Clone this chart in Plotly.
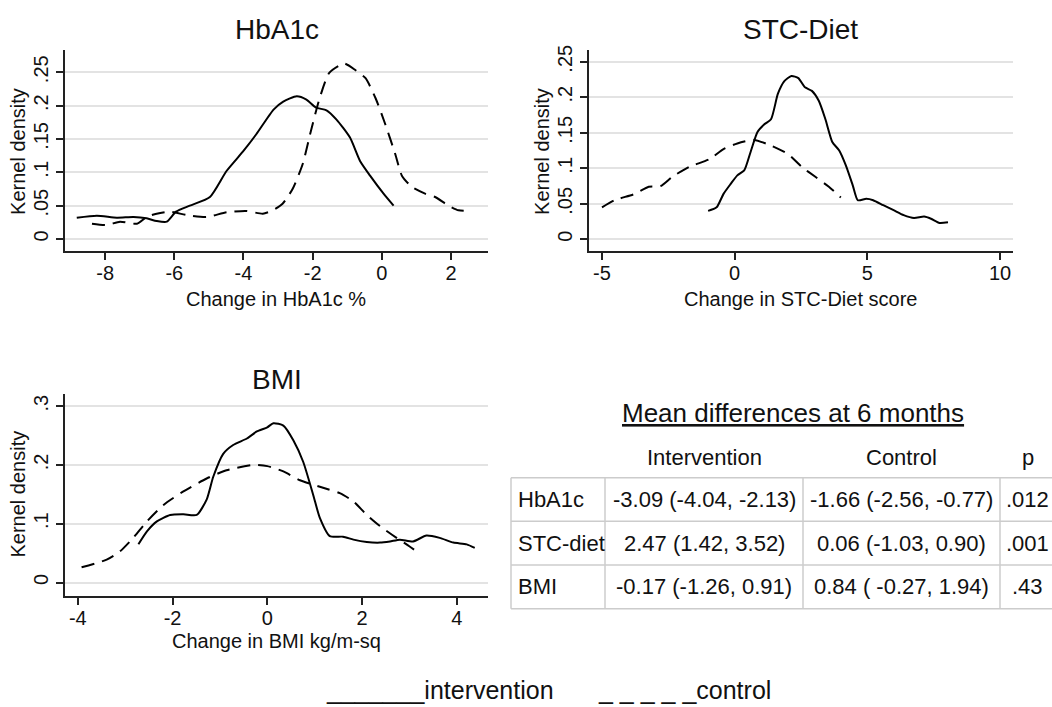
import plotly.graph_objects as go

# ---------------- data ----------------
hba1c_int_x = [-8.82, -8.24, -7.66, -7.18, -6.8, -6.51, -6.22, -5.95, -5.55, -4.97, -4.49, -4.0, -3.63,
               -3.13, -2.85, -2.46, -2.18, -1.9, -1.6, -1.31, -0.92, -0.63, -0.34, 0.05, 0.34]
hba1c_int_y = [0.032, 0.035, 0.032, 0.033, 0.031, 0.027, 0.026, 0.041, 0.050, 0.063, 0.102, 0.132, 0.157,
               0.194, 0.206, 0.214, 0.209, 0.197, 0.193, 0.179, 0.152, 0.117, 0.095, 0.068, 0.050]
hba1c_ctl_x = [-8.38, -7.95, -7.57, -7.08, -6.8, -6.51, -6.13, -5.65, -5.08, -4.49, -3.92, -3.44, -3.15,
               -2.87, -2.58, -2.29, -2.05, -1.81, -1.52, -1.09, -0.76, -0.47, -0.18, 0.1, 0.39, 0.58,
               0.87, 1.25, 1.54, 1.93, 2.22, 2.5]
hba1c_ctl_y = [0.023, 0.021, 0.026, 0.023, 0.033, 0.038, 0.041, 0.036, 0.033, 0.040, 0.042, 0.038, 0.043,
               0.053, 0.075, 0.112, 0.162, 0.209, 0.249, 0.263, 0.253, 0.241, 0.211, 0.172, 0.127, 0.095,
               0.078, 0.068, 0.063, 0.050, 0.043, 0.042]

stc_int_x = [-1.0, -0.68, -0.42, -0.15, 0.10, 0.36, 0.60, 0.86, 1.12, 1.37, 1.63, 1.88, 2.14, 2.4, 2.65,
             2.91, 3.17, 3.42, 3.68, 3.94, 4.19, 4.45, 4.64, 4.96, 5.22, 5.6, 5.99, 6.37, 6.76, 7.14,
             7.4, 7.72, 8.04]
stc_int_y = [0.040, 0.045, 0.064, 0.078, 0.090, 0.097, 0.123, 0.151, 0.162, 0.169, 0.205, 0.223, 0.230,
             0.227, 0.214, 0.209, 0.195, 0.169, 0.137, 0.125, 0.104, 0.076, 0.055, 0.057, 0.055, 0.048,
             0.041, 0.034, 0.030, 0.032, 0.029, 0.023, 0.024]
stc_ctl_x = [-5.0, -4.53, -3.76, -3.24, -2.79, -2.35, -1.71, -0.94, -0.42, 0.10, 0.73, 1.37, 2.01, 2.53,
             3.04, 3.55, 4.0]
stc_ctl_y = [0.045, 0.055, 0.064, 0.074, 0.075, 0.088, 0.102, 0.113, 0.127, 0.135, 0.140, 0.132, 0.120,
             0.102, 0.088, 0.074, 0.059]

bmi_int_x = [-2.72, -2.54, -2.33, -2.05, -1.77, -1.49, -1.28, -1.14, -0.93, -0.72, -0.43, -0.22, 0.0,
             0.13, 0.34, 0.55, 0.76, 0.97, 1.11, 1.32, 1.6, 1.82, 2.1, 2.38, 2.59, 2.8, 3.08, 3.36,
             3.64, 3.93, 4.21, 4.38]
bmi_int_y = [0.065, 0.087, 0.104, 0.115, 0.116, 0.115, 0.141, 0.180, 0.219, 0.234, 0.245, 0.257, 0.264,
             0.271, 0.267, 0.242, 0.205, 0.149, 0.110, 0.079, 0.078, 0.073, 0.069, 0.068, 0.070, 0.073,
             0.070, 0.080, 0.076, 0.068, 0.065, 0.059]
bmi_ctl_x = [-3.92, -3.39, -3.11, -2.83, -2.54, -2.19, -1.77, -1.28, -0.86, -0.29, 0.0, 0.34, 0.69,
             1.11, 1.53, 1.82, 2.1, 2.38, 2.73, 2.94, 3.19]
bmi_ctl_y = [0.026, 0.039, 0.053, 0.076, 0.104, 0.132, 0.155, 0.177, 0.191, 0.200, 0.198, 0.189, 0.174,
             0.163, 0.152, 0.138, 0.115, 0.096, 0.076, 0.065, 0.051]

table_title = "Mean differences at 6 months"
table_header = ["", "Intervention", "Control", "p"]
row_labels = ["HbA1c", "STC-diet", "BMI"]
intervention_col = ["-3.09 (-4.04, -2.13)", "2.47 (1.42, 3.52)", "-0.17 (-1.26, 0.91)"]
control_col = ["-1.66 (-2.56, -0.77)", "0.06 (-1.03, 0.90)", "0.84 ( -0.27, 1.94)"]
p_col = [".012", ".001", ".43"]

hba1c_xticks = [-8, -6, -4, -2, 0, 2]
hba1c_xticktext = ["-8", "-6", "-4", "-2", "0", "2"]
stc_xticks = [-5, 0, 5, 10]
stc_xticktext = ["-5", "0", "5", "10"]
bmi_xticks = [-4, -2, 0, 2, 4]
bmi_xticktext = ["-4", "-2", "0", "2", "4"]
dens_yticks = [0, 0.05, 0.1, 0.15, 0.2, 0.25]
dens_yticktext = ["0", ".05", ".1", ".15", ".2", ".25"]
bmi_yticks = [0, 0.1, 0.2, 0.3]
bmi_yticktext = ["0", ".1", ".2", ".3"]

legend_texts = ["_______intervention", "_ _ _ _ _control"]

# ---------------- layout helpers ----------------
W, H = 1052, 707
FONT = "Liberation Sans, Arial, Helvetica, sans-serif"
TXT = "#111"


def px_x(p):
    return p / W


def px_y(p):
    return 1 - p / H


fig = go.Figure()

solid = dict(color="black", width=2, shape="spline", smoothing=0.6)
dashed = dict(color="black", width=2, dash="13px,8px", shape="spline", smoothing=0.6)

for xs, ys, ln, xa, ya in [
    (hba1c_int_x, hba1c_int_y, solid, "x", "y"),
    (hba1c_ctl_x, hba1c_ctl_y, dashed, "x", "y"),
    (stc_int_x, stc_int_y, solid, "x2", "y2"),
    (stc_ctl_x, stc_ctl_y, dashed, "x2", "y2"),
    (bmi_int_x, bmi_int_y, solid, "x3", "y3"),
    (bmi_ctl_x, bmi_ctl_y, dashed, "x3", "y3"),
]:
    fig.add_trace(go.Scatter(x=xs, y=ys, mode="lines", line=ln, xaxis=xa, yaxis=ya,
                             showlegend=False, hoverinfo="x+y"))

axis_common = dict(showline=True, linecolor="#222", linewidth=1.5, ticks="outside", ticklen=7,
                   tickcolor="#222", tickwidth=1.5, zeroline=False,
                   tickfont=dict(family=FONT, size=20, color=TXT))
xcommon = dict(axis_common, showgrid=False, ticklabelstandoff=-4)
ycommon = dict(axis_common, showgrid=True, gridcolor="#e3e3e3", gridwidth=1.5, tickangle=-90)

fig.update_layout(
    width=W, height=H, margin=dict(l=0, r=0, t=0, b=0),
    paper_bgcolor="white", plot_bgcolor="white",
    font=dict(family=FONT, color=TXT),
    xaxis=dict(xcommon, domain=[px_x(65), px_x(488)], range=[-9.16, 3.07],
               tickvals=hba1c_xticks, ticktext=hba1c_xticktext, anchor="y"),
    yaxis=dict(ycommon, domain=[px_y(248), px_y(45)], range=[-0.0183, 0.2838],
               tickvals=dens_yticks, ticktext=dens_yticktext, anchor="x"),
    xaxis2=dict(xcommon, domain=[px_x(589), px_x(1013)], range=[-5.49, 10.49],
                tickvals=stc_xticks, ticktext=stc_xticktext, anchor="y2"),
    yaxis2=dict(ycommon, domain=[px_y(248), px_y(45)], range=[-0.0168, 0.267],
                tickvals=dens_yticks, ticktext=dens_yticktext, anchor="x2"),
    xaxis3=dict(xcommon, domain=[px_x(65), px_x(488)], range=[-4.27, 4.66],
                tickvals=bmi_xticks, ticktext=bmi_xticktext, anchor="y3"),
    yaxis3=dict(ycommon, domain=[px_y(595), px_y(391.7)], range=[-0.0225, 0.3208],
                tickvals=bmi_yticks, ticktext=bmi_yticktext, anchor="x3"),
)


def ann(text, x, y, size, angle=0, xanchor="center", yanchor="middle"):
    fig.add_annotation(text=text, x=px_x(x), y=px_y(y), xref="paper", yref="paper",
                       showarrow=False, textangle=angle, xanchor=xanchor, yanchor=yanchor,
                       font=dict(family=FONT, size=size, color=TXT))


# panel titles
ann("HbA1c", 277, 25, 28)
ann("STC-Diet", 800, 25, 28)
ann("BMI", 277, 377, 28)
# x axis titles
ann("Change in HbA1c %", 276, 296, 20)
ann("Change in STC-Diet score", 800, 296, 20)
ann("Change in BMI kg/m-sq", 276, 641, 20)
# y axis titles
ann("Kernel density", 18, 148, 20, angle=-90)
ann("Kernel density", 542, 148, 20, angle=-90)
ann("Kernel density", 18, 493, 20, angle=-90)

# ---------------- table (lines + text) ----------------
col_edges = [511, 605, 803, 1000, 1055]
row_edges = [476, 520, 564, 608]
header_y = 456
grid_col = "#cccccc"
for yy in row_edges:
    fig.add_shape(type="line", xref="paper", yref="paper", x0=px_x(col_edges[0]), x1=px_x(col_edges[-1]),
                  y0=px_y(yy), y1=px_y(yy), line=dict(color=grid_col, width=1.5))
for xx in col_edges:
    fig.add_shape(type="line", xref="paper", yref="paper", x0=px_x(xx), x1=px_x(xx),
                  y0=px_y(row_edges[0]), y1=px_y(row_edges[-1]), line=dict(color=grid_col, width=1.5))

ann("<u>" + table_title + "</u>", 793, 411, 26)
col_centers = [(col_edges[i] + col_edges[i + 1]) / 2 for i in range(len(col_edges) - 1)]
for j, h in enumerate(table_header):
    if h:
        ann(h, col_centers[j], header_y, 22)
columns = [row_labels, intervention_col, control_col, p_col]
for j, col in enumerate(columns):
    for i, val in enumerate(col):
        yc = (row_edges[i] + row_edges[i + 1]) / 2
        if j == 0:
            ann(val, col_edges[0] + 5, yc, 22, xanchor="left")
        else:
            ann(val, col_centers[j], yc, 22)

# legend text
ann(legend_texts[0], 440, 690, 25)
ann(legend_texts[1], 684, 690, 25)

fig.write_html("out.html", config={"displayModeBar": False},
               post_script="document.body.style.margin='0px';")
